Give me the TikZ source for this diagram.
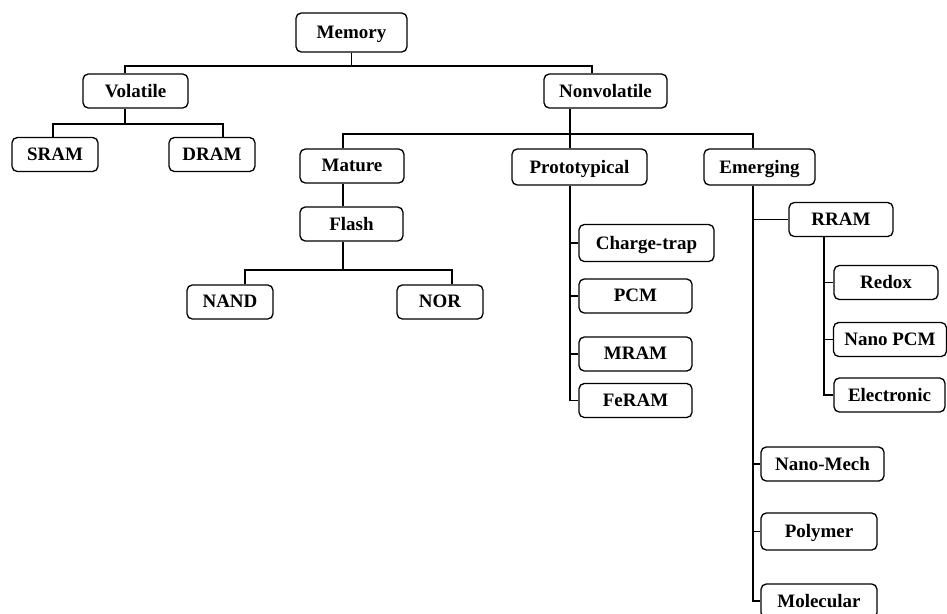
\documentclass[tikz,border=0pt]{standalone}
\usepackage{fontspec}
\setmainfont{Liberation Serif}

\begin{document}
\begin{tikzpicture}[x=0.02cm, y=-0.02cm, line width=0.75pt,
    box/.style={draw, rounded corners=3pt, minimum height=0.68cm, inner sep=0pt, text depth=0.5pt,
        font=\fontsize{10.8}{12}\selectfont\bfseries}]
    \useasboundingbox (0,0) rectangle (947,613);
    \node[box, minimum width=2.22cm, minimum height=0.78cm] (mem) at (351.5,32.5) {Memory};
    \node[box, minimum width=2.10cm] (vol) at (135.5,91) {Volatile};
    \node[box, minimum width=2.46cm] (nonvol) at (605.5,91) {Nonvolatile};
    \node[box, minimum width=1.72cm] (sram) at (55,154.5) {SRAM};
    \node[box, minimum width=1.72cm] (dram) at (212,154.5) {DRAM};
    \node[box, minimum width=2.08cm] (mature) at (352,166) {Mature};
    \node[box, minimum width=2.70cm, minimum height=0.72cm] (proto) at (579.5,167) {Prototypical};
    \node[box, minimum width=2.22cm, minimum height=0.72cm] (emerg) at (759.5,167) {Emerging};
    \node[box, minimum width=2.06cm] (flash) at (351.5,224) {Flash};
    \node[box, minimum width=1.72cm] (nand) at (230,302) {NAND};
    \node[box, minimum width=1.72cm] (nor) at (440,302) {NOR};
    \node[box, minimum width=2.70cm, minimum height=0.74cm] (ctrap) at (646.5,243) {Charge-trap};
    \node[box, minimum width=2.26cm] (pcm) at (635.5,296) {PCM};
    \node[box, minimum width=2.26cm] (mram) at (635.5,354) {MRAM};
    \node[box, minimum width=2.26cm] (feram) at (635.5,400.5) {FeRAM};
    \node[box, minimum width=2.08cm] (rram) at (841,219.5) {RRAM};
    \node[box, minimum width=2.08cm] (redox) at (886,282.5) {Redox};
    \node[box, minimum width=2.26cm] (nanopcm) at (890,339.5) {Nano PCM};
    \node[box, minimum width=2.22cm] (electronic) at (889.5,395) {Electronic};
    \node[box, minimum width=2.46cm] (nanomech) at (822.5,464) {Nano-Mech};
    \node[box, minimum width=2.32cm, minimum height=0.74cm] (polymer) at (819,531.5) {Polymer};
    \node[box, minimum width=2.32cm] (molecular) at (819,601) {Molecular};

    \coordinate (vx) at (125,66);
    \coordinate (nx) at (592,66);
    \draw (mem.south) -- (mem.south |- vx);
    \draw (vol.north -| vx) -- (vx) -- (nx) -- (nonvol.north -| nx);
    \coordinate (sx) at (53,124);
    \coordinate (dx) at (223,124);
    \draw (vol.south -| vx) -- (vx |- sx);
    \draw (sram.north -| sx) -- (sx) -- (dx) -- (dram.north -| dx);
    \coordinate (mx) at (343,134);
    \coordinate (px) at (570,134);
    \coordinate (ex) at (753,134);
    \draw (nonvol.south -| px) -- (px) -- (proto.north -| px);
    \draw (mature.north -| mx) -- (mx) -- (ex) -- (emerg.north -| ex);
    \draw (mature.south -| mx) -- (flash.north -| mx);
    \coordinate (ax) at (245,270);
    \coordinate (ox) at (452,270);
    \draw (flash.south -| mx) -- (mx |- ax);
    \draw (nand.north -| ax) -- (ax) -- (ox) -- (nor.north -| ox);
    \draw (proto.south -| px) |- (feram.west);
    \foreach \n in {ctrap,pcm,mram} \draw (px |- \n.west) -- (\n.west);
    \draw (emerg.south -| ex) |- (molecular.west);
    \foreach \n in {rram,nanomech,polymer} \draw (ex |- \n.west) -- (\n.west);
    \coordinate (rx) at (824,0);
    \draw (rram.south -| rx) |- (electronic.west);
    \foreach \n in {redox,nanopcm} \draw (rx |- \n.west) -- (\n.west);
\end{tikzpicture}
\end{document}
